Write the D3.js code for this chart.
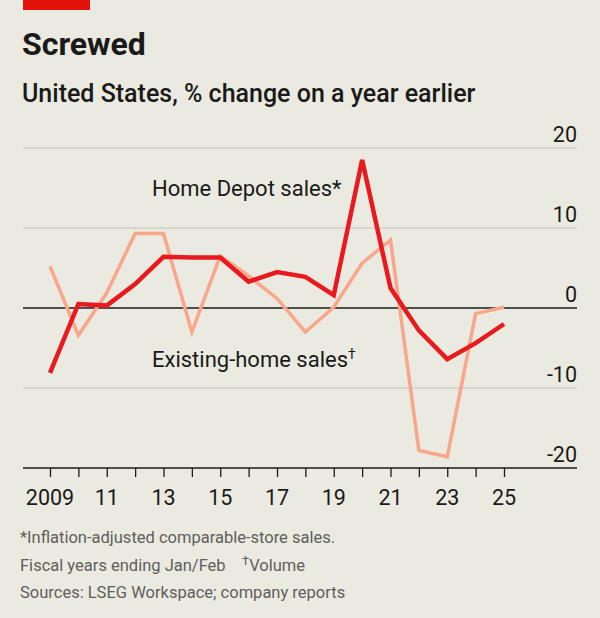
<!DOCTYPE html>
<html>
<head>
<meta charset="utf-8">
<script src="https://cdn.jsdelivr.net/npm/d3@7"></script>
<style>
  html, body { margin: 0; padding: 0; background: #ebeae0; }
  svg { display: block; }
  text { font-family: Roboto, "Liberation Sans", sans-serif; }
</style>
</head>
<body>
<svg id="chart" width="600" height="618"></svg>
<script>
const years = d3.range(2009, 2026);
const homeDepot = [-8.1, 0.5, 0.3, 3.0, 6.4, 6.3, 6.3, 3.3, 4.5, 3.9, 1.6, 18.5, 2.5, -2.8, -6.4, -4.4, -2.0];
const existingHome = [5.2, -3.4, 1.9, 9.3, 9.3, -3.0, 6.5, 4.0, 1.2, -3.0, 0.1, 5.6, 8.5, -17.8, -18.6, -0.7, 0.1];
const yTicks = [20, 10, 0, -10, -20];
const xLabelYears = [2009, 2011, 2013, 2015, 2017, 2019, 2021, 2023, 2025];

const svg = d3.select("#chart");
const W = 600, H = 618;
svg.append("rect").attr("width", W).attr("height", H).attr("fill", "#ebeae0");

// red top tag
svg.append("rect").attr("x", 23).attr("y", 0).attr("width", 67).attr("height", 10).attr("fill", "#e3120b");

svg.append("text").attr("x", 22).attr("y", 55).attr("font-size", 32).attr("font-weight", 700)
  .attr("fill", "#1a1a1a").text("Screwed");
svg.append("text").attr("x", 22).attr("y", 102).attr("font-size", 25).attr("font-weight", 500)
  .attr("fill", "#1a1a1a").text("United States, % change on a year earlier");

const x = d3.scaleLinear().domain([2009, 2025]).range([50, 504]);
const y = d3.scaleLinear().domain([-20, 20]).range([468, 148]);
const left = 23, right = 577;

// gridlines
const grid = svg.append("g");
yTicks.forEach(t => {
  if (t === -20) return;
  grid.append("line").attr("x1", left).attr("x2", right).attr("y1", y(t)).attr("y2", y(t))
    .attr("stroke", t === 0 ? "#1a1a1a" : "#c4c3b9").attr("stroke-width", t === 0 ? 1.5 : 1.2);
});
// y labels
yTicks.forEach(t => {
  svg.append("text").attr("x", right).attr("y", y(t) - 6).attr("text-anchor", "end")
    .attr("font-size", 21.5).attr("fill", "#1a1a1a").text(t);
});

// x axis
const xAxis = d3.axisBottom(x).tickValues(years).tickSize(9).tickFormat("");
const gx = svg.append("g").attr("transform", `translate(0,${y(-20)})`).call(xAxis);
gx.select(".domain").remove();
gx.selectAll(".tick line").attr("stroke", "#1a1a1a").attr("stroke-width", 1.3);
svg.append("line").attr("x1", left).attr("x2", right).attr("y1", y(-20)).attr("y2", y(-20))
  .attr("stroke", "#1a1a1a").attr("stroke-width", 1.5);
xLabelYears.forEach(yr => {
  svg.append("text").attr("x", x(yr)).attr("y", 505).attr("text-anchor", "middle")
    .attr("font-size", 21.5).attr("fill", "#1a1a1a")
    .text(yr === 2009 ? "2009" : String(yr).slice(2));
});

const line = d3.line().x((d, i) => x(years[i])).y(d => y(d));
svg.append("path").datum(existingHome).attr("d", line).attr("fill", "none")
  .attr("stroke", "#f9a68a").attr("stroke-width", 3.5).attr("stroke-linejoin", "miter");
svg.append("path").datum(homeDepot).attr("d", line).attr("fill", "none")
  .attr("stroke", "#e8191f").attr("stroke-width", 4.5).attr("stroke-linejoin", "miter");

// series labels
const hd = svg.append("text").attr("x", 152).attr("y", 196).attr("font-size", 22).attr("fill", "#1a1a1a");
hd.text("Home Depot sales*");
const eh = svg.append("text").attr("x", 152).attr("y", 367).attr("font-size", 22).attr("fill", "#1a1a1a");
eh.append("tspan").text("Existing-home sales");
eh.append("tspan").attr("font-size", 14).attr("dy", -8).text("†");

// footnotes
const fn = svg.append("g").attr("font-size", 16.5).attr("fill", "#5e5e5e");
fn.append("text").attr("x", 20).attr("y", 543).text("*Inflation-adjusted comparable-store sales.");
const f2 = fn.append("text").attr("x", 20).attr("y", 571);
f2.append("tspan").text("Fiscal years ending Jan/Feb");
f2.append("tspan").attr("x", 242).attr("dy", -6).attr("font-size", 13).text("†");
f2.append("tspan").attr("dy", 6).text("Volume");
fn.append("text").attr("x", 20).attr("y", 598).text("Sources: LSEG Workspace; company reports");
</script>
</body>
</html>
